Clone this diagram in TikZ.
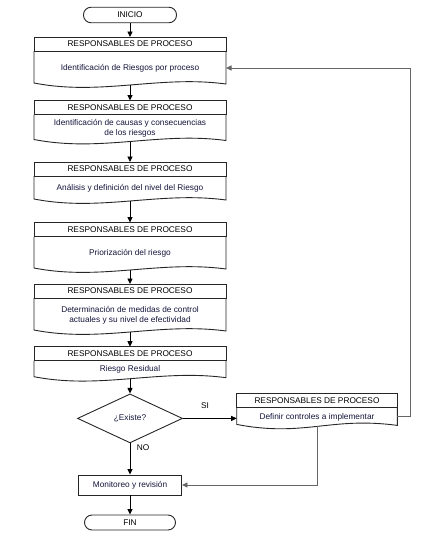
\documentclass[tikz,border=0pt]{standalone}
\usepackage{fontspec}
\setmainfont{Liberation Sans}
\usetikzlibrary{positioning,shapes.geometric,arrows.meta}
\definecolor{textoazul}{RGB}{20,20,60}
% contorno de hoja con borde inferior ondulado
\newcommand{\hoja}[1]{%
  \draw[borde] (#1.north west) -- ([yshift=2pt]#1.south west)
    .. controls +(67,13) and +(-67,-9) .. ([yshift=1pt]#1.south east)
    -- (#1.north east);}
\begin{document}
\begin{tikzpicture}[x=1pt, y=-1pt, font=\fontsize{8.3}{10}\selectfont,
  borde/.style={draw=black!85, line width=0.9pt},
  cabecera/.style={borde, minimum width=192pt, minimum height=14pt, inner sep=0pt, outer sep=0pt},
  cuerpo/.style={minimum width=192pt, inner sep=0pt, outer sep=0pt, align=center, text=textoazul},
  terminal/.style={borde, rounded corners=7.5pt, minimum width=93pt, minimum height=15.5pt, inner sep=0pt},
  decision/.style={borde, diamond, minimum width=105pt, minimum height=49pt, inner sep=0pt, text=textoazul},
  proceso/.style={borde, minimum width=103pt, minimum height=20pt, inner sep=0pt, text=textoazul},
  flecha/.style={draw=black, line width=0.9pt, -{Triangle[length=5.5pt,width=5pt]}},
  retorno/.style={flecha, draw=black!60}]
	\useasboundingbox (0,0) rectangle (444,541);
	
	% Inicio
	\node[terminal] (inicio) at (130,15) {INICIO};
	
	% Etapas del proceso
	\node[cabecera] (h1) at (130,44) {RESPONSABLES DE PROCESO};
	\node[cuerpo, below=0pt of h1, minimum height=34pt] (b1) {Identificación de Riesgos por proceso};
	\node[cabecera] (h2) at (130,107.5) {RESPONSABLES DE PROCESO};
	\node[cuerpo, below=0pt of h2, minimum height=27pt] (b2) {Identificación de causas y consecuencias\\de los riesgos};
	\node[cabecera] (h3) at (130,169) {RESPONSABLES DE PROCESO};
	\node[cuerpo, below=0pt of h3, minimum height=25pt] (b3) {Análisis y definición del nivel del Riesgo};
	\node[cabecera] (h4) at (130,229.5) {RESPONSABLES DE PROCESO};
	\node[cuerpo, below=0pt of h4, minimum height=33.5pt] (b4) {Priorización del riesgo};
	\node[cabecera] (h5) at (130,291) {RESPONSABLES DE PROCESO};
	\node[cuerpo, below=0pt of h5, minimum height=34pt] (b5) {Determinación de medidas de control\\actuales y su nivel de efectividad};
	\node[cabecera] (h6) at (130,353.7) {RESPONSABLES DE PROCESO};
	\node[cuerpo, below=0pt of h6, minimum height=18pt] (b6) {Riesgo Residual};
	\foreach \b in {b1,b2,b3,b4,b5,b6} {\hoja{\b}}
	
	% Decision y controles
	\node[decision] (dec) at (130,418.4) {¿Existe?};
	\node[cabecera, minimum width=160.6pt] (h7) at (317,400.4) {RESPONSABLES DE PROCESO};
	\node[cuerpo, below=0pt of h7, minimum width=160.6pt, minimum height=19pt] (b7) {Definir controles a implementar};
	\hoja{b7}
	
	% Cierre
	\node[proceso] (mon) at (130,485) {Monitoreo y revisión};
	\node[terminal, minimum width=91pt, minimum height=15pt] (fin) at (130,522.5) {FIN};
	
	% Conectores
	\draw[flecha] (inicio.south) -- (h1.north);
	\draw[flecha] (b1.south) -- (h2.north);
	\draw[flecha] (b2.south) -- (h3.north);
	\draw[flecha] (b3.south) -- (h4.north);
	\draw[flecha] (b4.south) -- (h5.north);
	\draw[flecha] (b5.south) -- (h6.north);
	\draw[flecha] (b6.south) -- (dec.north);
	\draw[flecha] (dec.east) -- (dec.east -| b7.west);
	\draw[retorno] (b7.east) -- ++(13.4,0) |- (b1.east);
	\draw[retorno] (b7.south) |- (mon.east);
	\draw[flecha] (dec.south) -- (mon.north);
	\draw[flecha] (mon.south) -- (fin.north);
	
	% Etiquetas
	\node (si) at (205,406) {SI};
	\node (no) at (143,448) {NO};
\end{tikzpicture}
\end{document}
